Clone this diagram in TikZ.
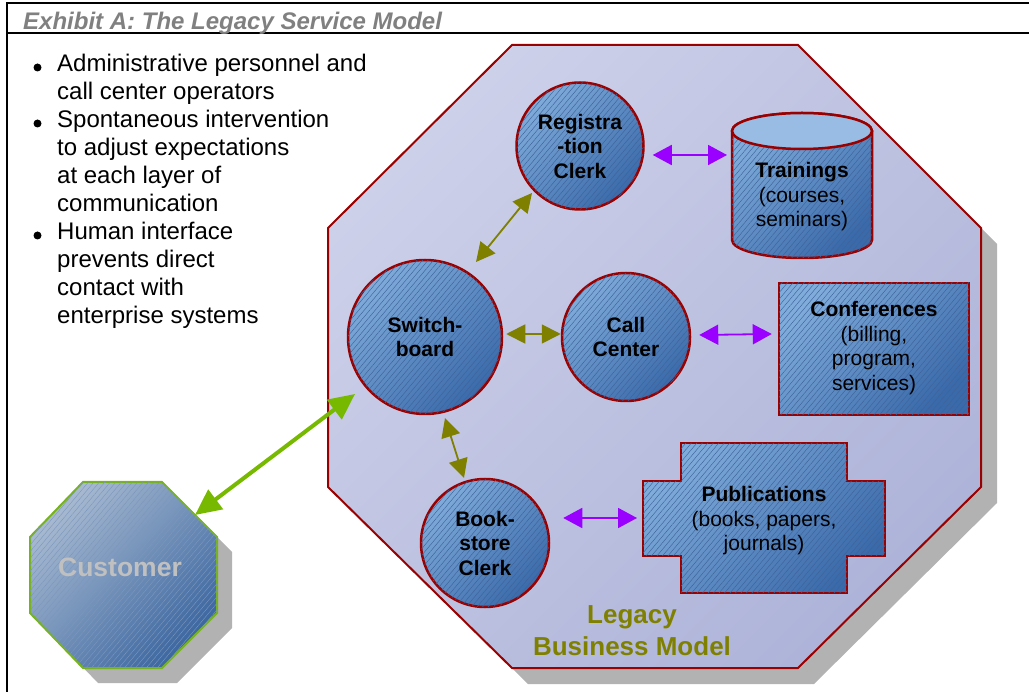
\documentclass[tikz,border=0pt]{standalone}
\usepackage{fontspec}
\setmainfont{Liberation Sans}
\usetikzlibrary{arrows.meta,patterns.meta,calc}

\definecolor{titlegray}{HTML}{808080}
\definecolor{octlight}{HTML}{CDD0E9}
\definecolor{octdark}{HTML}{AEB4D9}
\definecolor{octborder}{HTML}{990000}
\definecolor{shadowgray}{HTML}{B2B2B2}
\definecolor{nodelight}{HTML}{80ACDB}
\definecolor{nodedark}{HTML}{3A6AAA}
\definecolor{hatchc}{HTML}{3F639A}
\definecolor{cyltop}{HTML}{98BCE3}
\definecolor{custlight}{HTML}{A8BAD1}
\definecolor{custdark}{HTML}{3C67A0}
\definecolor{custhatch}{HTML}{7C97BC}
\definecolor{custborder}{HTML}{77B31E}
\definecolor{custtext}{HTML}{C0C0C0}
\definecolor{greenarrow}{HTML}{76B900}
\definecolor{olivearrow}{HTML}{808000}
\definecolor{purplearrow}{HTML}{9900FF}
\definecolor{legacyolive}{HTML}{808000}

\newcommand{\nodefont}{\fontsize{21}{24.5}\selectfont}
\newcommand{\bulletfont}{\fontsize{24}{28}\selectfont}

\begin{document}
\begin{tikzpicture}[x=1pt,y=-1pt,
  blueshade/.style={top color=nodelight, bottom color=nodedark, shading angle=45},
  hatching/.style={postaction={pattern={Lines[angle=50,distance=4.2pt,line width=0.45pt]},
    pattern color=hatchc}},
  bluenode/.style={blueshade, hatching, draw=octborder, line width=2.5pt},
  roundnode/.style={bluenode, circle, inner sep=0pt, align=center,
    font=\nodefont\bfseries},
  textnode/.style={inner sep=0pt, align=center, font=\nodefont},
  bullettext/.style={anchor=base west, inner sep=0pt, font=\bulletfont},
  olivelink/.style={draw=olivearrow, line width=1.8pt,
    {Triangle[length=19pt,width=19pt]}-{Triangle[length=19pt,width=19pt]}},
  purplelink/.style={draw=purplearrow, line width=1.8pt,
    {Triangle[length=19pt,width=20pt]}-{Triangle[length=19pt,width=20pt]}},
  greenlink/.style={draw=greenarrow, line width=4pt,
    {Triangle[length=26pt,width=24pt]}-{Triangle[length=26pt,width=24pt]}}
]
\useasboundingbox (0,0) rectangle (1029,692);

% frame and title bar
\draw[line width=2pt] (1029,3) -- (7,3) -- (7,692);
\draw[line width=2pt] (7,33) -- (1029,33);
\node[anchor=base west, inner sep=0pt, text=titlegray,
  font=\fontsize{24}{28}\selectfont\bfseries\itshape] (title) at (23,30)
  {Exhibit A: The Legacy Service Model};

% bullet list
\foreach \y in {67.5,123.5,235.5} \fill (37.5,\y) circle (4);
\node[bullettext] (b1) at (57,71.5) {Administrative personnel and};
\node[bullettext] (b2) at (57,99.5) {call center operators};
\node[bullettext] (b3) at (57,127.5) {Spontaneous intervention};
\node[bullettext] (b4) at (57,155.5) {to adjust expectations};
\node[bullettext] (b5) at (57,183.5) {at each layer of};
\node[bullettext] (b6) at (57,211.5) {communication};
\node[bullettext] (b7) at (57,239.5) {Human interface};
\node[bullettext] (b8) at (57,267.5) {prevents direct};
\node[bullettext] (b9) at (57,295.5) {contact with};
\node[bullettext] (b10) at (57,323.5) {enterprise systems};

% legacy business model octagon
\fill[shadowgray, shift={(16,16)}]
  (512,45) -- (798,45) -- (981,228) -- (981,487) -- (798,668) -- (512,668)
  -- (328,487) -- (328,228) -- cycle;
\shade[top color=octlight, bottom color=octdark, shading angle=45,
  draw=octborder, line width=2pt]
  (512,45) -- (798,45) -- (981,228) -- (981,487) -- (798,668) -- (512,668)
  -- (328,487) -- (328,228) -- cycle;

% customer octagon
\fill[shadowgray, shift={(15,15)}]
  (83,482) -- (162,482) -- (217,537) -- (217,613) -- (162,668) -- (83,668)
  -- (30,613) -- (30,537) -- cycle;
\shade[top color=custlight, bottom color=custdark, shading angle=45,
  draw=custborder, line width=2pt,
  postaction={pattern={Lines[angle=50,distance=4.2pt,line width=0.4pt]},
    pattern color=custhatch}]
  (83,482) -- (162,482) -- (217,537) -- (217,613) -- (162,668) -- (83,668)
  -- (30,613) -- (30,537) -- cycle;
\node[inner sep=0pt, text=custtext, font=\fontsize{26.5}{30}\selectfont\bfseries]
  (cust) at (120,567) {Customer};

% round role nodes
\node[roundnode, minimum size=127pt] (reg) at (580,146)
  {Registra\\-tion\\Clerk};
\node[roundnode, minimum size=154pt] (sw) at (425,337)
  {Switch-\\board};
\node[roundnode, minimum size=128pt] (call) at (626,337)
  {Call\\Center};
\node[roundnode, minimum size=128pt] (book) at (485,543)
  {Book-\\store\\Clerk};

% trainings cylinder
\shade[bluenode]
  (732,131) -- (732,240)
  .. controls (732,249.94) and (763.34,258) .. (802,258)
  .. controls (840.66,258) and (872,249.94) .. (872,240)
  -- (872,131)
  .. controls (872,121.06) and (840.66,113) .. (802,113)
  .. controls (763.34,113) and (732,121.06) .. (732,131) -- cycle;
\draw[fill=cyltop, draw=octborder, line width=2.5pt]
  (802,131) ellipse [x radius=70, y radius=18];
\node[textnode] (train) at (802,197)
  {\textbf{Trainings}\\(courses,\\seminars)};

% conferences box
\node[bluenode, rectangle, minimum width=190pt, minimum height=132pt,
  line width=2.5pt] (confbox) at (874,349) {};
\node[textnode] (conf) at (874,348)
  {\textbf{Conferences}\\(billing,\\program,\\services)};

% publications cross
\shade[bluenode]
  (681,443) -- (847,443) -- (847,481) -- (885,481) -- (885,556) -- (847,556)
  -- (847,593) -- (681,593) -- (681,556) -- (643,556) -- (643,481)
  -- (681,481) -- cycle;
\node[textnode] (pub) at (764,521)
  {\textbf{Publications}\\(books, papers,\\journals)};

% model caption
\node[inner sep=0pt, align=center, text=legacyolive,
  font=\fontsize{26}{32}\selectfont\bfseries] (legacy) at (632,631)
  {Legacy\\Business Model};

% connectors
\draw[olivelink] ($(sw.center)+(51,-75)$) -- ($(reg.center)+(-48,47)$);
\draw[olivelink] ($(sw.east)+(3,-3)$) -- ($(call.west)+(0,-3)$);
\draw[olivelink] ($(sw.center)+(20,81)$) -- ($(book.center)+(-21,-65)$);
\draw[purplelink] ($(reg.east)+(8,9)$) -- ($(train.center)+(-75,-42)$);
\draw[purplelink] ($(call.east)+(8,-2)$) -- ($(confbox.west)+(-6,-15)$);
\draw[purplelink] ($(book.east)+(13,-25)$) -- ($(pub.center)+(-127,-3)$);
\draw[greenlink] ($(cust.center)+(75,-52)$) -- ($(sw.center)+(-70,57)$);
\end{tikzpicture}
\end{document}
